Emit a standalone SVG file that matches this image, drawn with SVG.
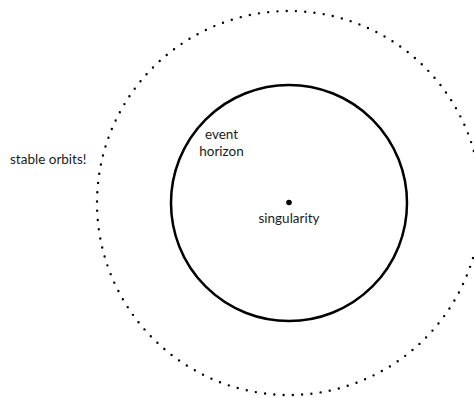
<svg xmlns="http://www.w3.org/2000/svg" width="474" height="398" viewBox="0 0 474 398">
<style>
text{font-family:"Lato","Open Sans",sans-serif;font-size:13.5px;fill:#1a1a1a}
.orbit{fill:none;stroke:#000;stroke-width:2.4;stroke-linecap:round;stroke-dasharray:0 9.3}
.horizon{fill:none;stroke:#000;stroke-width:2.5}
</style>
<rect width="474" height="398" fill="#fff"/>
<g id="connectors"></g>
<g id="stable-orbits">
<circle class="orbit" cx="289" cy="203" r="192"/>
<text x="10" y="164">stable orbits!</text>
</g>
<g id="event-horizon">
<circle class="horizon" cx="289" cy="203" r="118"/>
<text x="221.5" y="139" text-anchor="middle">event</text>
<text x="221.5" y="156" text-anchor="middle">horizon</text>
</g>
<g id="singularity">
<circle cx="289" cy="202.5" r="2.8" fill="#000"/>
<text x="289" y="223" text-anchor="middle">singularity</text>
</g>
</svg>
